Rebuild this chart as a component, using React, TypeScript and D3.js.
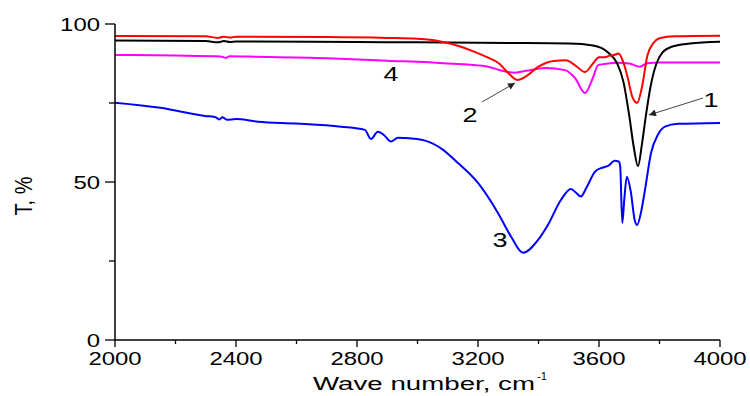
import React from "react";
import * as d3 from "d3";

type Pt = [number, number];

const xTicks = [2000, 2400, 2800, 3200, 3600, 4000];
const xMinor = [2200, 2600, 3000, 3400, 3800];
const yTicks = [0, 50, 100];
const yMinor = [25, 75];

const curve1: Pt[] = [
  [2000, 94.8], [2300, 94.6], [2340, 94.2], [2360, 94.6], [2380, 94.3], [2400, 94.5],
  [2800, 94.3], [3000, 94.2], [3300, 94.0], [3500, 93.8], [3580, 93.2], [3630, 91],
  [3660, 87.5], [3680, 82], [3700, 71], [3715, 61], [3729, 55], [3742, 62], [3755, 71],
  [3770, 80], [3790, 87.5], [3810, 91], [3840, 92.8], [3900, 93.8], [4000, 94.4],
];

const curve2: Pt[] = [
  [2000, 96.2], [2300, 96.1], [2340, 95.6], [2360, 96], [2380, 95.7], [2400, 96],
  [2700, 95.9], [2900, 95.6], [3000, 95.3], [3060, 94.8], [3120, 93.5], [3180, 91.5],
  [3230, 89.5], [3270, 87.5], [3300, 84.5], [3330, 82.3], [3360, 83.5], [3400, 86.5],
  [3450, 88.3], [3490, 88.5], [3520, 87], [3554, 84.8], [3580, 87.5], [3600, 89.5],
  [3620, 89.5], [3635, 90], [3650, 90.2], [3665, 90.7], [3680, 88], [3695, 83],
  [3710, 77], [3726, 75], [3742, 80], [3760, 90], [3780, 94], [3800, 95.5],
  [3850, 96.1], [4000, 96.3],
];

const curve3: Pt[] = [
  [2000, 75.1], [2150, 73.5], [2298, 70.9], [2330, 70.6], [2345, 69.8], [2355, 70.5],
  [2370, 69.7], [2400, 69.9], [2473, 69.1], [2600, 68.5], [2747, 67.5], [2826, 66.5],
  [2846, 63.6], [2869, 65.9], [2890, 64.8], [2912, 62.8], [2935, 64], [2958, 63.9],
  [3025, 63.1], [3080, 60.5], [3134, 56], [3200, 49.7], [3266, 40.2], [3310, 32.6],
  [3349, 27.6], [3398, 31.6], [3431, 36.4], [3474, 44.3], [3507, 47.8], [3525, 46.5],
  [3540, 45.4], [3560, 48.5], [3587, 53.3], [3610, 54.5], [3630, 55.1], [3652, 56.7],
  [3665, 56.5], [3670, 55], [3677, 37], [3684, 45], [3692, 51.7], [3705, 47],
  [3718, 38], [3726, 36.4], [3738, 40], [3752, 47.5], [3772, 59.2], [3795, 65],
  [3818, 67.5], [3861, 68.4], [4000, 68.7],
];

const curve4: Pt[] = [
  [2000, 90.2], [2200, 90], [2350, 89.7], [2365, 89.3], [2380, 89.8], [2440, 89.7],
  [2700, 89.2], [2900, 88.4], [3100, 87.5], [3233, 86.5], [3280, 85.2], [3322, 84.6],
  [3360, 85.2], [3421, 86.1], [3488, 85.4], [3520, 83], [3554, 78.2], [3580, 83],
  [3597, 87], [3630, 87.5], [3663, 87.7], [3700, 87.5], [3735, 86.5], [3760, 87.6],
  [3800, 87.8], [4000, 87.8],
];

const seriesList = [
  { name: "4", data: curve4, color: "#ff00ff" },
  { name: "3", data: curve3, color: "#0000ff" },
  { name: "1", data: curve1, color: "#000000" },
  { name: "2", data: curve2, color: "#ff0000" },
];

const FONT = "'Liberation Sans', Arial, Helvetica, sans-serif";

function SText(props: {
  x: number; y: number; sx?: number; size: number; anchor?: string; children: React.ReactNode;
}) {
  const { x, y, sx = 1.33, size, anchor = "middle", children } = props;
  return (
    <text
      transform={`translate(${x},${y}) scale(${sx},1)`}
      fontSize={size}
      fontFamily={FONT}
      textAnchor={anchor as any}
      fill="#000"
    >
      {children}
    </text>
  );
}

export default function App() {
  const x = d3.scaleLinear().domain([2000, 4000]).range([115, 720]);
  const y = d3.scaleLinear().domain([0, 100]).range([340, 24]);
  const line = d3
    .line<Pt>()
    .x((d) => x(d[0]))
    .y((d) => y(d[1]))
    .curve(d3.curveMonotoneX);

  return (
    <svg
      width={750}
      height={396}
      style={{ position: "absolute", left: 0, top: 0, background: "#fff" }}
    >
      <defs>
        <marker id="arr" viewBox="0 0 10 10" refX="10" refY="5" markerWidth="9" markerHeight="7" orient="auto" markerUnits="userSpaceOnUse">
          <path d="M0,0 L10,5 L0,10 z" fill="#222" />
        </marker>
      </defs>

      {seriesList.map((s) => (
        <path key={s.name} d={line(s.data) || ""} fill="none" stroke={s.color} strokeWidth={2} />
      ))}

      {/* axes */}
      <line x1={x(2000)} x2={x(4000)} y1={y(0)} y2={y(0)} stroke="#000" strokeWidth={1.5} />
      <line x1={x(2000)} x2={x(2000)} y1={y(0)} y2={y(100)} stroke="#000" strokeWidth={1.5} />

      {xTicks.map((t) => (
        <g key={"xt" + t}>
          <line x1={x(t)} x2={x(t)} y1={y(0)} y2={y(0) + 7} stroke="#000" strokeWidth={1.3} />
          <SText x={x(t)} y={365} size={18} sx={1.33}>{t}</SText>
        </g>
      ))}
      {xMinor.map((t) => (
        <line key={"xm" + t} x1={x(t)} x2={x(t)} y1={y(0)} y2={y(0) + 4} stroke="#000" strokeWidth={1.3} />
      ))}
      {yTicks.map((t) => (
        <g key={"yt" + t}>
          <line x1={x(2000) - 10} x2={x(2000)} y1={y(t)} y2={y(t)} stroke="#000" strokeWidth={1.3} />
          <SText x={100} y={y(t) + 6.5} size={18} sx={1.33} anchor="end">{t}</SText>
        </g>
      ))}
      {yMinor.map((t) => (
        <line key={"ym" + t} x1={x(2000) - 6} x2={x(2000)} y1={y(t)} y2={y(t)} stroke="#000" strokeWidth={1.3} />
      ))}

      {/* axis titles */}
      <text
        x={313}
        y={390}
        fontSize={17.5}
        fontFamily={FONT}
        textLength={222}
        lengthAdjust="spacingAndGlyphs"
      >
        Wave number, cm
      </text>
      <text x={537} y={380} fontSize={11} fontFamily={FONT} textLength={10} lengthAdjust="spacingAndGlyphs">
        -1
      </text>
      <text
        transform={`translate(32,196) scale(1.2,1) rotate(-90)`}
        fontSize={20}
        fontFamily={FONT}
        textAnchor="middle"
      >
        T, %
      </text>

      {/* annotations */}
      <line x1={703} y1={98} x2={649} y2={115} stroke="#444" strokeWidth={1} markerEnd="url(#arr)" />
      <line x1={482} y1={102} x2={515} y2={83} stroke="#444" strokeWidth={1} markerEnd="url(#arr)" />
      <SText x={711} y={107} size={20} sx={1.35}>1</SText>
      <SText x={470} y={122} size={20} sx={1.35}>2</SText>
      <SText x={500} y={247} size={20} sx={1.35}>3</SText>
      <SText x={391} y={81} size={20} sx={1.35}>4</SText>
    </svg>
  );
}
